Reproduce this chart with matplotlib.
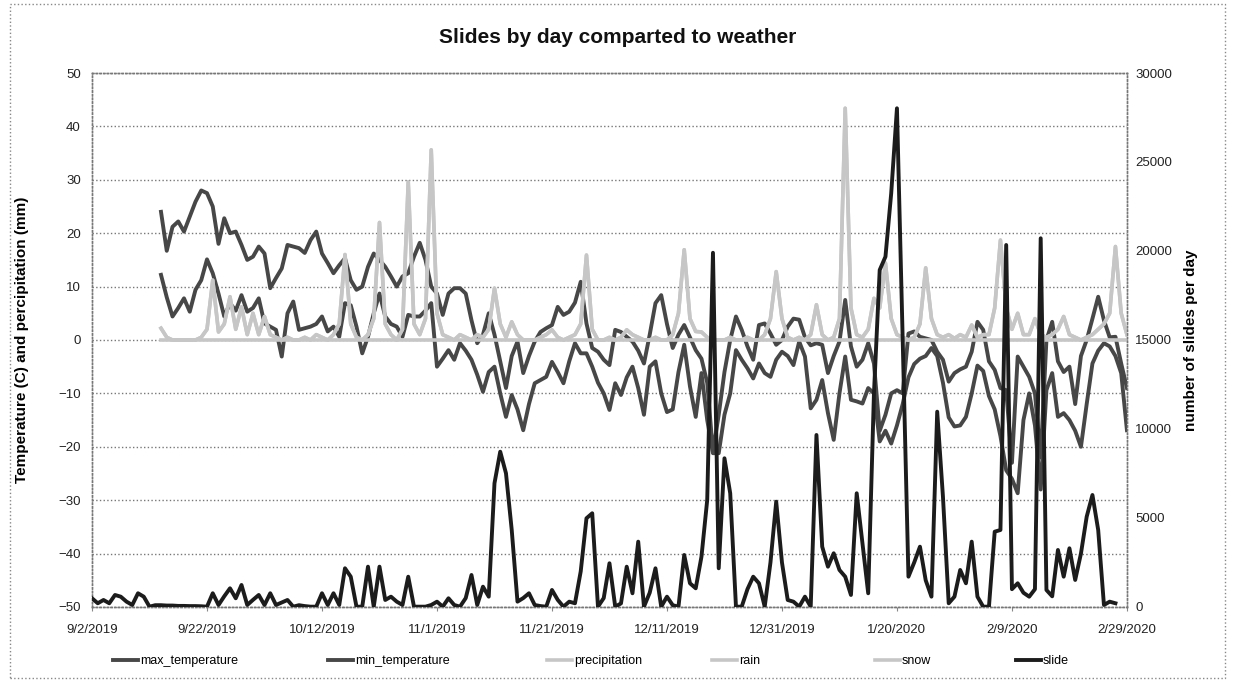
import numpy as np
import matplotlib
matplotlib.use("Agg")
import matplotlib.pyplot as plt
import matplotlib.dates as mdates
import matplotlib.ticker as mticker
from matplotlib.patches import Rectangle
import datetime as dt

plt.rcParams['font.family'] = ['Liberation Sans', 'DejaVu Sans']

nan = np.nan
start = dt.date(2019, 9, 2)
n_days = 181
dates = [start + dt.timedelta(days=i) for i in range(n_days)]

max_temperature = [nan]*12 + [
    24, 16.7, 21.2, 22.2, 20.3, 23.1, 25.9, 28, 27.5, 25, 18, 22.8, 20, 20.3, 17.8, 15, 15.6, 17.5,
    16.2, 9.7, 11.6, 13.4, 17.8, 17.5, 17.2, 16.3, 18.7, 20.3, 16.2, 14.4, 12.5, 14, 15.3, 11.2,
    9.4, 10, 13.7, 16.2, 15, 13.7, 11.9, 10, 11.9, 12.5, 15.6, 18.2, 15, 10, 8.7, 4.7, 8.7, 9.7,
    9.7, 8.7, 3.7, -0.6, 1, 5, 1, -4, -9, -3, -0.3, -6.2, -3, -0.3, 1.5, 2.2, 2.8, 6.2, 4.7, 5.3,
    7, 10.9, 3.1, -1.5, -2.2, -3.7, -4.7, 1.9, 1.5, 0.6, -0.3, -2, -4.4, 1, 6.9,
    8.4, 3, -1.5, 1, 2.8, 0.5, -1.9, -3.5, -8, -21,
    -14, -6, 0, 4.4, 1.9, -1.2, -3.7, 2.8, 3.1, 1.2,
    -0.9, 0, 2.5, 4, 3.8, 0.5, -1, -0.6, -0.9, -6.2,
    -3, -0.3, 7.5, -1.2, -5, -3.7, -0.6, -4.4, -17, -14,
    -10, -9.4, -10, 1.2, 1.6, 0.6, 0.3, 0, -2.2, -3.7,
    -7.8, -6.2, -5.5, -5, -2.2, 3.4, 1.9, -4, -5.6, -9,
    -9.4, -23, -3.1, -5, -6.9, -10, -22, 0, 3.4, -4,
    -6, -5, -12, -3, 0, 4, 8.1, 3.7, 0.5, 0.6,
    -4.4, -9]

min_temperature = [nan]*12 + [
    12.2, 8, 4.4, 6, 7.8, 5.3, 9.4, 11.2, 15.1, 12.5, 8.7, 4.4, 6.9, 5.5, 8.4, 5.3, 6, 7.8, 3.1,
    2.5, 1.9, -3.1, 5, 7.2, 1.9, 2.2, 2.5, 3, 4.4, 1.6, 2.5, 0.6, 6.9, 6.5, 2.5, -2.5, 0.6, 5,
    8.7, 4.4, 3, 2.5, 0.6, 4.7, 4.4, 4.4, 5.5, 6.9, -5, -3.5, -1.9, -3.7, -0.6, -2, -3.7, -6.5,
    -9.7, -6, -5, -10, -14.4, -10.3, -13, -16.9, -12, -8.1, -7.5, -6.9, -4.1, -6, -8.1, -4, -0.6,
    -2.5, -2.5, -5, -8, -10, -13.1, -8.1, -10.3, -7, -5, -9,
    -14, -5, -4, -10, -13.5, -13, -6, -0.9, -8.7, -14.4,
    -6.2, -15, -21.2, -21.2, -14, -10, -1.9, -3.7, -5.3, -7.2,
    -4.4, -6.2, -6.9, -3.7, -2.2, -3, -4.7, -0.3, -3.1, -12.8,
    -11.2, -7.5, -13.7, -18.7, -10, -3.1, -11.2, -11.5, -11.9, -9,
    -10, -19, -17, -19.4, -16, -12, -7, -4.5, -3.5, -3,
    -1.5, -3, -8, -14.5, -16.2, -16, -14.4, -10, -4.8, -5.8,
    -10.5, -13, -18, -24.4, -26, -28.7, -15, -10, -16, -28,
    -9.4, -6.2, -14.4, -13.7, -15, -17, -20, -12, -4.4, -2,
    -0.6, -1.2, -3, -6.2, -16.9]

precipitation = [nan]*12 + [
    2.2, 0.5, 0, 0, 0, 0, 0, 0.5, 2, 11.2, 1.5, 3, 8.1, 2, 6.2, 1, 5, 1, 4.4, 1, 0.5, 0, 0.5, 0,
    0, 0.5, 0, 1, 0.5, 0, 1, 3, 16, 3, 0.5, 0, 1, 4, 22, 3, 1, 0, 2, 29.6, 3, 1, 4, 35.6, 5, 1,
    0.5, 0, 1, 0.5, 0, 1, 0.5, 2, 9.7, 3, 0.5, 3.4, 1, 0, 0, 0, 0.5, 1, 1.9, 0.5, 0, 0.5, 1, 3,
    15.9, 2, 0, 0, 0.5, 0, 0.5, 1.9, 1, 0.5, 0, 0, 0.5, 0,
    0, 1, 5, 16.9, 4, 1.6, 1.5, 0.5, 0, 0,
    0, 0.5, 0, 0, 0.5, 0, 0, 1, 4, 12.8,
    4, 0.5, 0, 0.5, 0, 1, 6.6, 1, 0, 0.5,
    4, 43.4, 6, 1, 0.5, 2, 7.8, 6, 14.4, 4,
    1, 0.5, 0, 0.5, 3, 13.5, 4, 1, 0.5, 1,
    0.3, 1, 0.5, 2.8, 0.5, 1, 1, 6, 18.7, 6,
    2, 5, 1, 1, 4, 1, 0.5, 1, 2, 4.4,
    1, 0.5, 0, 0.5, 1, 2, 3, 5, 17.5, 5, 1]

# rain until late October, snow afterwards (mm)
rain_values = [
    2.2, 0.5, 0, 0, 0, 0, 0, 0.5, 2, 11.2, 1.5, 3, 8.1, 2, 6.2, 1, 5, 1, 4.4, 1, 0.5, 0, 0.5, 0,
    0, 0.5, 0, 1, 0.5, 0, 1, 3, 16, 3, 0.5, 0, 1, 4, 22, 3, 1, 0, 2, 29.6, 3, 1, 4, 35.6, 5, 1,
    0.5, 0, 1, 0.5, 0, 1, 0.5, 2, 9.7, 3, 0.5, 3.4, 1, 0, 0, 0, 0.5, 1, 1.9, 0.5]
snow_values = [
    0, 0.5, 1, 3,
    15.9, 2, 0, 0, 0.5, 0, 0.5, 1.9, 1, 0.5, 0, 0, 0.5, 0,
    0, 1, 5, 16.9, 4, 1.6, 1.5, 0.5, 0, 0,
    0, 0.5, 0, 0, 0.5, 0, 0, 1, 4, 12.8,
    4, 0.5, 0, 0.5, 0, 1, 6.6, 1, 0, 0.5,
    4, 43.4, 6, 1, 0.5, 2, 7.8, 6, 14.4, 4,
    1, 0.5, 0, 0.5, 3, 13.5, 4, 1, 0.5, 1,
    0.3, 1, 0.5, 2.8, 0.5, 1, 1, 6, 18.7, 6,
    2, 5, 1, 1, 4, 1, 0.5, 1, 2, 4.4,
    1, 0.5, 0, 0.5, 1, 2, 3, 5, 17.5, 5, 1]
rain = [nan]*12 + rain_values + [0]*(n_days - 12 - len(rain_values))
snow = [nan]*12 + [0]*(n_days - 12 - len(snow_values)) + snow_values

slide = [
    489, 208, 393, 208, 674, 579, 300, 112, 770, 579, 17, 100, 100, 80, 80, 60, 60, 50, 50, 40,
    17, 770, 112, 600, 1050, 489, 1236, 112, 400, 674, 112, 770, 112, 250, 393, 17, 100, 50, 17,
    17, 770, 112, 770, 112, 2174, 1702, 17, 17, 2264, 17, 2264, 393, 579, 300, 112, 1702, 17, 17,
    17, 112, 298, 17, 489, 112, 17, 500, 1798, 112, 1140, 579, 6950, 8725, 7511, 4326, 298, 500,
    770, 112, 50, 17, 955, 400, 17, 298, 208, 2000, 4983, 5264, 17, 500, 2455, 17, 200, 2264, 770,
    3669, 17, 800, 2174, 17, 579, 100, 17, 2921, 1331,
    1050, 2826, 6011, 19900, 2174, 8354, 6388, 17, 17, 1000,
    1702, 1331, 17, 2500, 5916, 2500, 393, 298, 17, 579,
    17, 9663, 3388, 2264, 3017, 2079, 1702, 674, 6388, 3579,
    770, 12000, 18933, 19680, 23241, 28017, 15000, 1702, 2500, 3388,
    1500, 579, 10972, 6197, 208, 579, 2079, 1331, 3669, 579,
    17, 17, 4230, 4326, 20337, 1000, 1331, 800, 579, 1000,
    20714, 955, 600, 3202, 1702, 3298, 1517, 3000, 5073, 6292,
    4326, 112, 298, 208]

fig = plt.figure(figsize=(12.35, 6.81), dpi=100)
ax = fig.add_axes([0.0745, 0.1087, 0.838, 0.7841])
ax2 = ax.twinx()

dark = '#474747'
light = '#c6c6c6'
lines = []
lines += ax.plot(dates[:len(max_temperature)], max_temperature, color=dark, lw=2.8, label="max_temperature", zorder=3)
lines += ax.plot(dates[:len(min_temperature)], min_temperature, color=dark, lw=2.8, label="min_temperature", zorder=3)
lines += ax.plot(dates[:len(precipitation)], precipitation, color=light, lw=2.6, label="precipitation", zorder=4)
lines += ax.plot(dates[:len(rain)], rain, color=light, lw=2.6, label="rain", zorder=4)
lines += ax.plot(dates[:len(snow)], snow, color=light, lw=2.6, label="snow", zorder=4)
lines += ax2.plot(dates[:len(slide)], slide, color='#1c1c1c', lw=2.8, label="slide", zorder=5)

ax.set_ylim(-50, 50)
ax.set_yticks(range(-50, 51, 10))
ax2.set_ylim(0, 30000)
ax2.set_yticks(range(0, 30001, 5000))
ax.set_xlim(dates[0], dates[-1])
ax.set_xticks([dates[i] for i in range(0, n_days, 20)])


def fmt_date(v, p):
    d = mdates.num2date(v)
    return f"{d.month}/{d.day}/{d.year}"


ax.xaxis.set_major_formatter(mticker.FuncFormatter(fmt_date))

ax.grid(axis='y', linestyle=':', color='#777777', lw=1.0)
for a in (ax, ax2):
    for s in a.spines.values():
        s.set_linestyle(':')
        s.set_color('#777777')
        s.set_linewidth(1.0)
ax.tick_params(axis='y', length=0, labelsize=9.5, pad=8, colors='#222222')
ax2.tick_params(axis='y', length=0, labelsize=9.5, pad=6, colors='#222222')
ax.tick_params(axis='x', length=3, color='#888888', labelsize=9.5, pad=9, labelcolor='#222222')
ax2.tick_params(axis='x', length=0)

ax.set_ylabel("Temperature (C) and percipitation (mm)", fontsize=11, fontweight='bold')
ax.yaxis.set_label_coords(-0.0609, 0.5)
ax2.set_ylabel("number of slides per day", fontsize=11, fontweight='bold')
ax2.yaxis.set_label_coords(1.0551, 0.5)
fig.text(0.5, 0.945, "Slides by day comparted to weather", ha='center', va='center',
         fontsize=15, fontweight='bold', color='#111111')

legend_x = [113, 328, 547, 712, 875, 1016]
for ln, x0 in zip(lines, legend_x):
    fig.legend([ln], [ln.get_label()], loc='center left', bbox_to_anchor=(x0 / 1235, 0.029),
               frameon=False, fontsize=9, handlelength=2.0, handletextpad=0.15,
               borderpad=0, borderaxespad=0)

fig.patches.append(Rectangle((0.008, 0.004), 0.984, 0.99, transform=fig.transFigure,
                             fill=False, linestyle=':', edgecolor='#888888', lw=1.0))

fig.savefig("out.png", dpi=100)
